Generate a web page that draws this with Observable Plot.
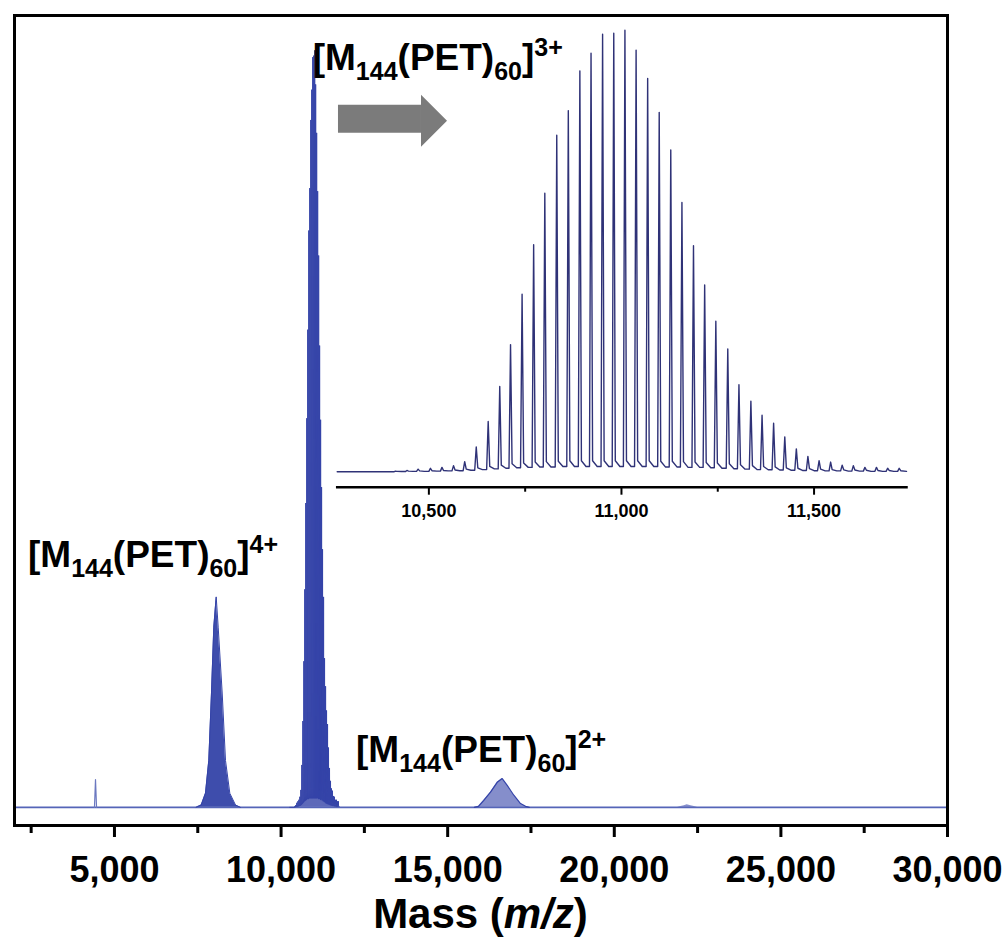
<!DOCTYPE html>
<html>
<head>
<meta charset="utf-8">
<script src="https://cdn.jsdelivr.net/npm/d3@7"></script>
<script src="https://cdn.jsdelivr.net/npm/@observablehq/plot@0.6"></script>
<style>
  body { margin: 0; background: white; }
  #wrap { position: relative; width: 1008px; height: 941px; }
  #wrap svg { position: absolute; }
</style>
</head>
<body>
<div id="wrap"></div>
<script>
// ---------- data ----------
// main spectrum: intensity in % of the tallest 3+ isotope peak
const peak4Mz  = [7450, 7603, 7732, 7831, 7912, 7981, 8053, 8113, 8233, 8332, 8462, 8633, 8780];
const peak4Int = [0, 0.3, 1.85, 6.2, 15.1, 23.8, 27.8, 23.8, 15.1, 6.2, 1.85, 0.3, 0];

const peak2Mz  = [15800, 15926, 16085, 16286, 16487, 16637, 16787, 16985, 17186, 17336, 17450];
const peak2Int = [0, 0.13, 0.92, 2.0, 3.3, 3.8, 2.9, 1.6, 0.5, 0.13, 0];

const spikeMz  = [4400, 4431, 4462];
const spikeInt = [0, 3.66, 0];

const bumpMz   = [21900, 22100, 22189, 22300, 22500];
const bumpInt  = [0, 0.2, 0.35, 0.2, 0];

// 3+ isotope/ligand-distribution comb (inset; also the 3+ peak of the main spectrum)
const insetMz = [10413, 10443, 10472, 10504, 10534, 10564, 10593, 10623, 10654, 10684,
                 10712, 10742, 10772, 10801, 10832, 10862, 10892, 10921, 10951, 10980,
                 11009, 11038, 11068, 11098, 11128, 11157, 11187, 11216, 11245, 11276,
                 11305, 11336, 11365, 11395, 11424, 11454, 11484, 11513, 11543, 11573,
                 11602, 11632, 11662, 11691, 11721];
const insetInt = [0.15, 0.3, 0.6, 0.8, 1.0, 1.4, 2.3, 5.6, 11.4, 19.3,
                  28.8, 40.2, 51.4, 63.1, 76.2, 81.8, 90.8, 94.8, 99.1, 99.3,
                  100, 95.5, 89.1, 81.4, 72.9, 61.0, 51.2, 42.3, 34.1, 27.8,
                  19.7, 16.0, 12.8, 11.0, 7.9, 5.2, 3.5, 2.5, 2.2, 1.5,
                  1.4, 1.0, 1.0, 0.8, 0.8];
// tail level just after each peak, and trough between consecutive peaks
const insetShoulder = [0.1, 0.15, 0.2, 0.25, 0.3, 0.4, 0.6, 0.9, 1.2, 1.5,
                       1.8, 2.0, 2.2, 2.3, 2.4, 2.5, 2.5, 2.5, 2.5, 2.5,
                       2.5, 2.5, 2.5, 2.4, 2.4, 2.3, 2.2, 2.1, 2.0, 1.8,
                       1.6, 1.4, 1.2, 1.1, 0.9, 0.8, 0.7, 0.6, 0.5, 0.45,
                       0.4, 0.35, 0.3, 0.3, 0.25];
const insetValley = [0.05, 0.1, 0.1, 0.15, 0.2, 0.25, 0.35, 0.5, 0.65, 0.8,
                     0.9, 1.0, 1.1, 1.1, 1.2, 1.2, 1.2, 1.2, 1.2, 1.2,
                     1.2, 1.2, 1.2, 1.1, 1.1, 1.0, 1.0, 0.9, 0.8, 0.7,
                     0.6, 0.5, 0.45, 0.4, 0.35, 0.3, 0.25, 0.2, 0.2, 0.15,
                     0.15, 0.1, 0.1, 0.1];

const mainTicks  = [5000, 10000, 15000, 20000, 25000, 30000];
const mainMinor  = [2500, 7500, 12500, 17500, 22500, 27500];
const insetTicks = [10500, 11000, 11500];
const insetMinor = [10750, 11250];

// ---------- tables built from the arrays ----------
const toRows = (xs, ys) => xs.map((x, i) => ({x, y: ys[i]}));
const peak4 = toRows(peak4Mz, peak4Int);
const peak2 = toRows(peak2Mz, peak2Int);
const spike = toRows(spikeMz, spikeInt);
const bump  = toRows(bumpMz, bumpInt);

const insetDomain = [10262, 11740];
const comb = [{x: insetDomain[0], y: 0}];
insetMz.forEach((mz, i) => {
  const vL = i === 0 ? 0 : insetValley[i - 1];
  comb.push({x: mz - 4, y: vL}, {x: mz, y: insetInt[i]}, {x: mz + 4, y: insetShoulder[i]});
  if (i < insetValley.length) comb.push({x: mz + 16, y: insetValley[i]});
});
comb.push({x: insetDomain[1], y: 0.1});

// arrow annotation (in main-chart data units)
const arrowShaft = [{x: 11723, y1: 89.04, y2: 92.73}, {x: 14214, y1: 89.04, y2: 92.73}];
const arrowHead  = [{x: 14214, y1: 87.19, y2: 94.06}, {x: 14995, y1: 90.62, y2: 90.62}];

// ---------- styles ----------
const FONT = "'Liberation Sans', Arial, Helvetica, sans-serif";
const BLUE = "#3443a8";
const NAVY = "#2f3277";

const main = Plot.plot({
  width: 1008, height: 941,
  marginTop: 15, marginBottom: 116, marginLeft: 14, marginRight: 61,
  x: {domain: [2000, 30000]},
  y: {domain: [-2.4, 104.6], axis: null},
  style: {fontFamily: FONT, background: "white", overflow: "visible", color: "black"},
  marks: [
    Plot.ruleY([0], {stroke: "#5565b8", strokeWidth: 1.6}),
    Plot.areaY(peak4, {x: "x", y: "y", fill: BLUE, fillOpacity: 0.95}),
    Plot.line(peak4, {x: "x", y: "y", stroke: BLUE, strokeWidth: 1}),
    Plot.areaY(comb, {x: "x", y: "y", fill: BLUE, fillOpacity: 0.8}),
    Plot.line(comb, {x: "x", y: "y", stroke: BLUE, strokeWidth: 1}),
    Plot.areaY(peak2, {x: "x", y: "y", fill: BLUE, fillOpacity: 0.6}),
    Plot.line(peak2, {x: "x", y: "y", stroke: BLUE, strokeWidth: 1.2}),
    Plot.line(spike, {x: "x", y: "y", stroke: "#6b78c0", strokeWidth: 1.2}),
    Plot.areaY(bump, {x: "x", y: "y", fill: BLUE, fillOpacity: 0.6}),
    Plot.area(arrowShaft, {x1: "x", y1: "y1", y2: "y2", fill: "#7b7b7b"}),
    Plot.area(arrowHead,  {x1: "x", y1: "y1", y2: "y2", fill: "#7b7b7b"}),
    Plot.axisX({ticks: mainTicks, tickSize: 12, tickPadding: 19, tickFormat: d3.format(","),
                fontSize: 36, fontWeight: "bold", strokeWidth: 3, label: null}),
    Plot.axisX({ticks: mainMinor, tickSize: 8, tickFormat: () => "", strokeWidth: 3, label: null}),
    Plot.frame({stroke: "black", strokeWidth: 3})
  ]
});
main.style.left = "0px"; main.style.top = "0px";

const inset = Plot.plot({
  width: 600, height: 510,
  marginTop: 0, marginBottom: 43.3, marginLeft: 6.7, marginRight: 24,
  x: {domain: insetDomain},
  y: {domain: [-3.49, 102.2], axis: null},
  style: {fontFamily: FONT, background: "transparent", overflow: "visible", color: "black"},
  marks: [
    Plot.line(comb, {x: "x", y: "y", stroke: NAVY, strokeWidth: 1.4}),
    Plot.frame({anchor: "bottom", stroke: "black", strokeWidth: 2.5}),
    Plot.axisX({ticks: insetTicks, tickSize: 8, tickPadding: 9, tickFormat: d3.format(","),
                fontSize: 18, fontWeight: "bold", strokeWidth: 2, label: null}),
    Plot.axisX({ticks: insetMinor, tickSize: 5, tickFormat: () => "", strokeWidth: 2, label: null})
  ]
});
inset.style.left = "330px"; inset.style.top = "20px";

const wrap = document.getElementById("wrap");
wrap.appendChild(main);
wrap.appendChild(inset);

// ---------- text annotations ----------
const sx = main.scale("x"), sy = main.scale("y");
const svg = d3.select(main);

function ionLabel(mz, inten, charge) {
  const t = svg.append("text")
    .attr("x", sx.apply(mz)).attr("y", sy.apply(inten))
    .attr("text-anchor", "start")
    .attr("font-family", FONT).attr("font-weight", "bold")
    .attr("font-size", 37).attr("fill", "black");
  t.append("tspan").text("[M");
  t.append("tspan").attr("font-size", 25).attr("dy", 10).text("144");
  t.append("tspan").attr("dy", -10).text("(PET)");
  t.append("tspan").attr("font-size", 25).attr("dy", 10).text("60");
  t.append("tspan").attr("dy", -10).text("]");
  t.append("tspan").attr("font-size", 25).attr("dy", -14).text(charge);
}
ionLabel(2420, 31.7, "4+");
ionLabel(10964, 97.4, "3+");
ionLabel(12264, 5.9, "2+");

const xl = svg.append("text")
  .attr("x", (sx.range[0] + sx.range[1]) / 2).attr("y", 928)
  .attr("text-anchor", "middle")
  .attr("font-family", FONT).attr("font-weight", "bold")
  .attr("font-size", 42).attr("fill", "black");
xl.append("tspan").text("Mass (");
xl.append("tspan").attr("font-style", "italic").text("m/z");
xl.append("tspan").text(")");
</script>
</body>
</html>
